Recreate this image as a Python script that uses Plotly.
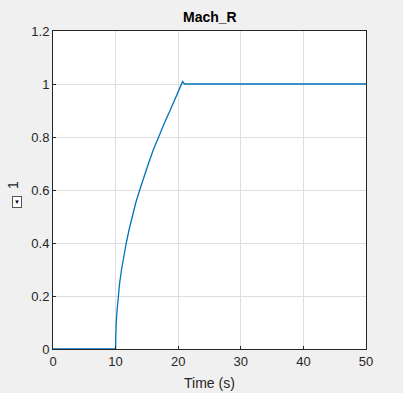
import plotly.graph_objects as go

time_s = [0, 10, 10.02, 10.05, 10.1, 10.25, 10.42, 10.65, 10.95, 11.3, 11.7, 12.15, 12.65,
          13.2, 13.85, 14.5, 15.25, 16.0, 16.85, 17.75, 18.7, 19.65, 20.5, 20.7, 21.0, 50]
mach_r = [0, 0, 0.04, 0.07, 0.1, 0.15, 0.2, 0.25, 0.3, 0.35, 0.4, 0.45, 0.5,
          0.55, 0.6, 0.65, 0.7, 0.75, 0.8, 0.85, 0.9, 0.95, 0.995, 1.009, 1.0, 1.0]
x_ticks = [0, 10, 20, 30, 40, 50]
y_ticks = [0, 0.2, 0.4, 0.6, 0.8, 1, 1.2]
y_tick_labels = ["0", "0.2", "0.4", "0.6", "0.8", "1", "1.2"]

L, R, T, B = 53, 37, 31, 44
PW, PH = 403 - L - R, 393 - T - B

fig = go.Figure()
fig.add_trace(go.Scatter(x=time_s, y=mach_r, mode="lines",
                         line=dict(color="#0072BD", width=1.3),
                         showlegend=False))

font = "Liberation Sans, Arial"
axis_common = dict(showgrid=True, gridcolor="#dedede", gridwidth=1,
                   showline=True, linecolor="#262626", linewidth=1, mirror=True,
                   ticks="inside", ticklen=3, tickcolor="#262626",
                   zeroline=False, automargin=False,
                   tickfont=dict(family=font, size=13, color="#262626"))

fig.update_layout(
    width=403, height=393,
    margin=dict(l=L, r=R, t=T, b=B, autoexpand=False),
    paper_bgcolor="#f0f0f0", plot_bgcolor="white",
    xaxis=dict(range=[0, 50], tickvals=x_ticks, **axis_common),
    yaxis=dict(range=[0, 1.2], tickvals=y_ticks, ticktext=y_tick_labels, **axis_common),
)


def px(x):
    return (x - L) / PW


def py(y):
    return ((393 - B) - y) / PH


# title
fig.add_annotation(text="<b>Mach_R</b>", xref="paper", yref="paper",
                   x=0.5, y=py(17), yanchor="middle", showarrow=False,
                   font=dict(family=font, size=14, color="#000000"))
# x-axis title
fig.add_annotation(text="Time (s)", xref="paper", yref="paper",
                   x=0.5, y=py(383), yanchor="middle", showarrow=False,
                   font=dict(family=font, size=14, color="#262626"))
# y-axis title
fig.add_annotation(text="1", xref="paper", yref="paper", textangle=-90,
                   x=px(13), y=py(185), xanchor="center", yanchor="middle",
                   showarrow=False, font=dict(family=font, size=14, color="#262626"))
fig.add_annotation(text="▼", xref="paper", yref="paper", x=px(16.5), y=py(202.5),
                   xanchor="center", yanchor="middle",
                   showarrow=False, font=dict(size=6, color="#000000"),
                   bordercolor="#555555", borderwidth=1, borderpad=1, bgcolor="white")

fig.write_html("out.html", config={"displayModeBar": False},
               post_script="document.body.style.margin='0';")
